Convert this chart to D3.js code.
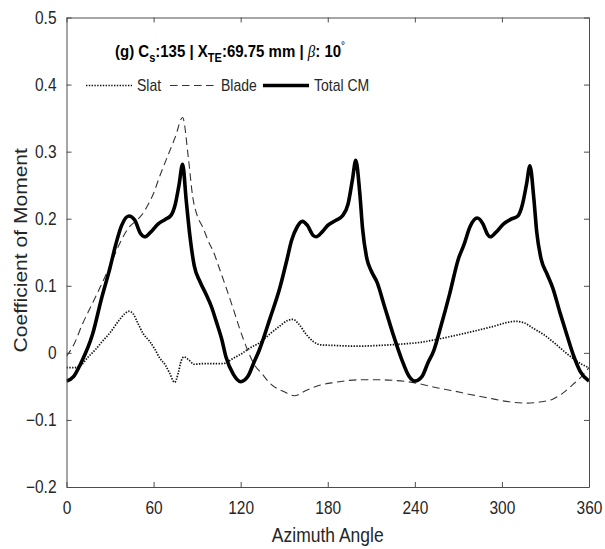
<!DOCTYPE html>
<html>
<head>
<meta charset="utf-8">
<script src="https://cdn.jsdelivr.net/npm/d3@7"></script>
<style>
  html, body { margin: 0; padding: 0; background: #fff; }
  svg { display: block; font-family: "Liberation Sans", Arial, sans-serif; }
</style>
</head>
<body>
<svg id="chart" width="605" height="549"></svg>
<script>
// Azimuth angle (deg) and moment coefficient samples for each component
const slatAngle = [0, 5, 9, 15, 20, 25, 30, 36, 40, 43, 46, 49, 53, 57, 61, 64, 68, 71, 74.5, 77, 79, 81, 84, 88, 95, 103, 108, 115, 120, 127, 133, 140, 147, 152, 156, 160, 165, 170, 175, 185, 200, 215, 230, 245, 255, 270, 282, 295, 303, 309, 315, 322, 329, 336, 343, 350, 355, 360];
const slatCm = [-0.022, -0.022, -0.02, -0.006, 0.005, 0.018, 0.03, 0.048, 0.058, 0.062, 0.058, 0.045, 0.028, 0.018, 0.005, -0.007, -0.018, -0.03, -0.044, -0.03, -0.012, -0.006, -0.01, -0.017, -0.016, -0.016, -0.016, -0.008, -0.002, 0.008, 0.015, 0.028, 0.04, 0.048, 0.05, 0.043, 0.028, 0.017, 0.012, 0.011, 0.01, 0.011, 0.013, 0.016, 0.02, 0.027, 0.033, 0.04, 0.045, 0.047, 0.045, 0.036, 0.027, 0.015, 0.002, -0.01, -0.017, -0.022];

const bladeAngle = [0, 5, 11, 17, 23, 30, 36, 43, 48, 52, 56, 60, 64, 70, 75, 80, 84, 87, 90, 94, 98, 101, 105, 110, 115, 119, 125, 129, 135, 140, 150, 157, 165, 175, 185, 195, 205, 215, 225, 235, 243, 255, 265, 278, 290, 305, 317, 327, 335, 342, 349, 355, 360];
const bladeCm = [-0.005, 0.012, 0.043, 0.07, 0.097, 0.13, 0.16, 0.187, 0.197, 0.206, 0.22, 0.238, 0.262, 0.295, 0.322, 0.351, 0.29, 0.232, 0.205, 0.187, 0.165, 0.152, 0.128, 0.097, 0.065, 0.038, 0.003, -0.016, -0.032, -0.045, -0.058, -0.064, -0.056, -0.048, -0.044, -0.041, -0.04, -0.04, -0.041, -0.043, -0.046, -0.052, -0.056, -0.062, -0.067, -0.073, -0.075, -0.073, -0.069, -0.06, -0.047, -0.035, -0.022];

const totalAngle = [0, 5, 10, 18, 24, 30, 34, 38, 43, 47, 51, 54, 58, 63, 68, 72, 75, 77.5, 80, 82.5, 85, 88, 92, 96, 100, 103, 107, 110, 115, 120, 125, 129, 133, 140, 147, 152, 155, 159, 162.5, 166, 170, 172, 176, 180, 186, 190, 194, 197, 199.3, 202, 204, 207, 210, 214, 219, 225, 231, 236, 240, 245, 249, 253, 258, 264, 270, 274, 278, 283, 287, 290, 292, 296, 301, 306, 311, 314, 317, 319.3, 322, 324, 327, 331, 335, 340, 345, 349, 354, 360];
const totalCm = [-0.042, -0.035, -0.015, 0.028, 0.08, 0.127, 0.162, 0.19, 0.204, 0.198, 0.178, 0.173, 0.18, 0.192, 0.199, 0.205, 0.222, 0.25, 0.281, 0.227, 0.175, 0.13, 0.106, 0.088, 0.068, 0.048, 0.02, -0.007, -0.032, -0.043, -0.035, -0.015, 0.005, 0.05, 0.097, 0.14, 0.167, 0.188, 0.196, 0.19, 0.175, 0.173, 0.18, 0.19, 0.198, 0.204, 0.222, 0.258, 0.287, 0.24, 0.185, 0.14, 0.122, 0.105, 0.07, 0.028, -0.01, -0.035, -0.042, -0.035, -0.015, 0.003, 0.04, 0.088, 0.14, 0.162, 0.188, 0.201, 0.192, 0.177, 0.173, 0.18, 0.192, 0.199, 0.204, 0.22, 0.252, 0.279, 0.23, 0.18, 0.14, 0.118, 0.097, 0.06, 0.025, -0.002, -0.028, -0.042];

const seriesNames = ["Slat", "Blade", "Total CM"];
const xTicks = [0, 60, 120, 180, 240, 300, 360];
const yTicks = [-0.2, -0.1, 0, 0.1, 0.2, 0.3, 0.4, 0.5];

const svg = d3.select("#chart");
const plotLeft = 66.5, plotRight = 589, plotTop = 17.5, plotBottom = 487;
const axisColor = "#4d4d4d", textColor = "#262626";
const stretch = 1.15; // glyphs are drawn a little taller than wide

const x = d3.scaleLinear().domain([0, 360]).range([plotLeft, plotRight]);
const y = d3.scaleLinear().domain([-0.2, 0.5]).range([plotBottom, plotTop]);

const styles = {
  "Slat":     { stroke: "#111", width: 1.7, dash: "1.4,1.4" },
  "Blade":    { stroke: "#333", width: 1.1, dash: "7.5,4.5" },
  "Total CM": { stroke: "#000", width: 3.6, dash: null }
};
const series = [
  { name: seriesNames[0], pts: slatAngle.map((a, i) => [a, slatCm[i]]) },
  { name: seriesNames[1], pts: bladeAngle.map((a, i) => [a, bladeCm[i]]) },
  { name: seriesNames[2], pts: totalAngle.map((a, i) => [a, totalCm[i]]) }
];

svg.append("defs").append("clipPath").attr("id", "plotclip")
  .append("rect").attr("x", plotLeft).attr("y", plotTop)
  .attr("width", plotRight - plotLeft).attr("height", plotBottom - plotTop);

// Curves
const line = d3.line().x(d => x(d[0])).y(d => y(d[1])).curve(d3.curveMonotoneX);
const plot = svg.append("g").attr("clip-path", "url(#plotclip)");
series.forEach(s => {
  const st = styles[s.name];
  plot.append("path").datum(s.pts)
    .attr("d", line)
    .attr("fill", "none")
    .attr("stroke", st.stroke)
    .attr("stroke-width", st.width)
    .attr("stroke-linejoin", "round")
    .attr("stroke-dasharray", st.dash);
});

// Axes with inward ticks on all four sides
function styleAxis(g) {
  g.select(".domain").attr("stroke", axisColor).attr("stroke-width", 1);
  g.selectAll(".tick line").attr("stroke", axisColor).attr("stroke-width", 1);
}
const fmtY = d => d === 0 ? "0" : d3.format(".1f")(d);
const tickFont = "15.5px";

svg.append("g").attr("transform", `translate(0,${plotBottom})`)
  .call(d3.axisBottom(x).tickValues(xTicks).tickSize(-5).tickSizeOuter(0))
  .call(styleAxis)
  .call(g => g.selectAll(".tick text")
    .attr("y", 0).attr("dy", null)
    .attr("transform", `translate(0,27) scale(1,${stretch})`)
    .attr("fill", textColor).style("font-size", tickFont));
svg.append("g").attr("transform", `translate(0,${plotTop})`)
  .call(d3.axisTop(x).tickValues(xTicks).tickSize(-5).tickSizeOuter(0))
  .call(styleAxis)
  .call(g => g.selectAll(".tick text").remove());
svg.append("g").attr("transform", `translate(${plotLeft},0)`)
  .call(d3.axisLeft(y).tickValues(yTicks).tickFormat(fmtY).tickSize(-5).tickSizeOuter(0))
  .call(styleAxis)
  .call(g => g.selectAll(".tick text")
    .attr("x", 0).attr("dy", null)
    .attr("transform", `translate(-10,5.5) scale(1,${stretch})`)
    .attr("fill", textColor).style("font-size", tickFont));
svg.append("g").attr("transform", `translate(${plotRight},0)`)
  .call(d3.axisRight(y).tickValues(yTicks).tickSize(-5).tickSizeOuter(0))
  .call(styleAxis)
  .call(g => g.selectAll(".tick text").remove());

// Axis titles
svg.append("text")
  .attr("transform", `translate(${(plotLeft + plotRight) / 2},542) scale(1,${stretch})`)
  .attr("text-anchor", "middle").attr("fill", textColor)
  .style("font-size", "17.5px").text("Azimuth Angle");
svg.append("text")
  .attr("transform", `translate(27,${(plotTop + plotBottom) / 2 - 2}) rotate(-90) scale(1.17,1)`)
  .attr("text-anchor", "middle").attr("fill", textColor)
  .style("font-size", "18px").text("Coefficient of Moment");

// Panel title with sub/superscripts
const title = svg.append("text")
  .attr("transform", `translate(115,57) scale(1,1.08)`)
  .attr("fill", "#000").style("font-size", "15px").style("font-weight", "bold");
title.append("tspan").text("(g) C");
title.append("tspan").attr("dy", 5).style("font-size", "11px").text("s");
title.append("tspan").attr("dy", -5).text(":135 | X");
title.append("tspan").attr("dy", 5).style("font-size", "11px").text("TE");
title.append("tspan").attr("dy", -5).text(":69.75 mm | ");
title.append("tspan").style("font-style", "italic").style("font-weight", "normal")
  .style("font-family", "'Liberation Serif', serif").text("β");
title.append("tspan").text(": 10");
title.append("tspan").attr("dy", -7).style("font-size", "10px").style("font-weight", "normal").text("°");

// Legend
const legendX = [86, 170, 263];
const legend = svg.append("g");
series.forEach((s, i) => {
  const st = styles[s.name];
  const g = legend.append("g").attr("transform", `translate(${legendX[i]},85.5)`);
  g.append("line").attr("x1", 0).attr("x2", 46).attr("y1", 0).attr("y2", 0)
    .attr("stroke", st.stroke).attr("stroke-width", st.width)
    .attr("stroke-dasharray", st.dash);
  g.append("text").attr("transform", `translate(51,5.5) scale(1,${stretch})`)
    .attr("fill", textColor).style("font-size", "14px").text(s.name);
});
</script>
</body>
</html>
